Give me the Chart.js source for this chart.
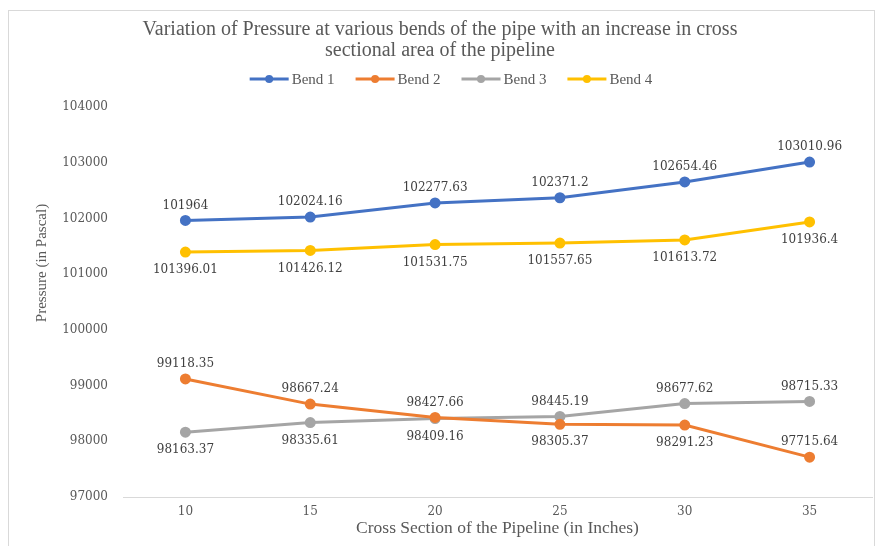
<!DOCTYPE html>
<html>
<head>
<meta charset="utf-8">
<script src="https://cdn.jsdelivr.net/npm/chart.js@4"></script>
<style>
  html, body { margin: 0; padding: 0; background: #fff; }
  #wrap { position: relative; width: 880px; height: 546px; }
</style>
</head>
<body>
<div id="wrap"><canvas id="chartCanvas" width="880" height="546"></canvas></div>
<script>
// chart data
const categories = ['10', '15', '20', '25', '30', '35'];
const bend1 = [101964, 102024.16, 102277.63, 102371.2, 102654.46, 103010.96];
const bend2 = [99118.35, 98667.24, 98427.66, 98305.37, 98291.23, 97715.64];
const bend3 = [98163.37, 98335.61, 98409.16, 98445.19, 98677.62, 98715.33];
const bend4 = [101396.01, 101426.12, 101531.75, 101557.65, 101613.72, 101936.4];
const seriesNames = ['Bend 1', 'Bend 2', 'Bend 3', 'Bend 4'];
const yTicks = [97000, 98000, 99000, 100000, 101000, 102000, 103000, 104000];

// where each value label sits (a = above, b = below)
const labelSides = [
  ['a', 'a', 'a', 'a', 'a', 'a'],
  ['a', 'a', 'a', 'b', 'b', 'a'],
  ['b', 'b', 'b', 'a', 'a', 'a'],
  ['b', 'b', 'b', 'b', 'b', 'b']
];
const colors = ['#4472C4', '#ED7D31', '#A5A5A5', '#FFC000'];

// frame, value labels, legend and y title
const extras = {
  id: 'extras',
  beforeDraw(chart) {
    const ctx = chart.ctx;
    ctx.save();
    ctx.strokeStyle = '#d9d9d9';
    ctx.lineWidth = 1;
    ctx.strokeRect(8.5, 10.5, 866, 560);
    ctx.restore();
  },
  afterDatasetsDraw(chart) {
    const ctx = chart.ctx;
    ctx.save();
    ctx.font = '12px "DejaVu Serif"';
    ctx.fillStyle = '#404040';
    ctx.textAlign = 'center';
    chart.data.datasets.forEach((ds, i) => {
      const meta = chart.getDatasetMeta(i);
      meta.data.forEach((pt, j) => {
        const txt = String(ds.data[j]);
        if (labelSides[i][j] === 'a') {
          ctx.textBaseline = 'bottom';
          ctx.fillText(txt, pt.x, pt.y - 9);
        } else {
          ctx.textBaseline = 'top';
          ctx.fillText(txt, pt.x, pt.y + 12);
        }
      });
    });
    ctx.restore();
  },
  afterDraw(chart) {
    const ctx = chart.ctx;
    ctx.save();
    // legend
    ctx.font = '15px "Liberation Serif"';
    const lineLen = 39, gap = 3, space = 21;
    const widths = seriesNames.map(n => lineLen + gap + ctx.measureText(n).width);
    const total = widths.reduce((a, b) => a + b, 0) + space * (seriesNames.length - 1);
    let x = 451 - total / 2;
    const y = 79;
    seriesNames.forEach((n, i) => {
      ctx.strokeStyle = colors[i];
      ctx.fillStyle = colors[i];
      ctx.lineWidth = 3;
      ctx.beginPath();
      ctx.moveTo(x, y);
      ctx.lineTo(x + lineLen, y);
      ctx.stroke();
      ctx.beginPath();
      ctx.arc(x + lineLen / 2, y, 4, 0, Math.PI * 2);
      ctx.fill();
      ctx.fillStyle = '#595959';
      ctx.textAlign = 'left';
      ctx.textBaseline = 'middle';
      ctx.fillText(n, x + lineLen + gap, y + 1);
      x += widths[i] + space;
    });
    // y axis title
    ctx.translate(42, 263);
    ctx.rotate(-Math.PI / 2);
    ctx.font = '15px "Liberation Serif"';
    ctx.fillStyle = '#595959';
    ctx.textAlign = 'center';
    ctx.textBaseline = 'middle';
    ctx.fillText('Pressure (in Pascal)', 0, 0);
    ctx.restore();
  }
};

const allSeries = [bend1, bend2, bend3, bend4];

new Chart(document.getElementById('chartCanvas'), {
  type: 'line',
  data: {
    labels: categories,
    datasets: allSeries.map((d, i) => ({
      label: seriesNames[i],
      data: d,
      borderColor: colors[i],
      backgroundColor: colors[i],
      borderWidth: 3,
      pointRadius: 4,
      pointHoverRadius: 4,
      tension: 0
    }))
  },
  options: {
    responsive: false,
    animation: false,
    layout: { padding: { top: 12, left: 8, right: 8, bottom: 0 } },
    plugins: {
      legend: { display: false },
      tooltip: { enabled: false },
      title: {
        display: true,
        text: ['Variation of Pressure at various bends of the pipe with an increase in cross', 'sectional area of the pipeline'],
        font: { family: 'Liberation Serif', size: 20, weight: 'normal', lineHeight: 1.05 },
        color: '#595959',
        padding: { top: 7, bottom: 46 }
      }
    },
    scales: {
      x: {
        offset: true,
        grid: { display: false, drawTicks: false },
        border: { display: true, color: '#d9d9d9', width: 1 },
        ticks: { color: '#595959', font: { family: 'DejaVu Serif', size: 12 }, padding: 8 },
        title: {
          display: true,
          text: 'Cross Section of the Pipeline (in Inches)',
          color: '#595959',
          font: { family: 'Liberation Serif', size: 17.5 },
          padding: { top: 0, bottom: 7 }
        },
        afterFit(scale) { scale.height = 49; }
      },
      y: {
        min: 97000,
        max: 104000,
        grid: { display: false, drawTicks: false },
        border: { display: false },
        afterBuildTicks(scale) { scale.ticks = yTicks.map(v => ({ value: v })); },
        ticks: {
          color: '#595959',
          font: { family: 'DejaVu Serif', size: 12 },
          padding: 15,
          callback: v => String(v)
        },
        afterFit(scale) { scale.width = 115; }
      }
    }
  },
  plugins: [extras]
});
</script>
</body>
</html>
